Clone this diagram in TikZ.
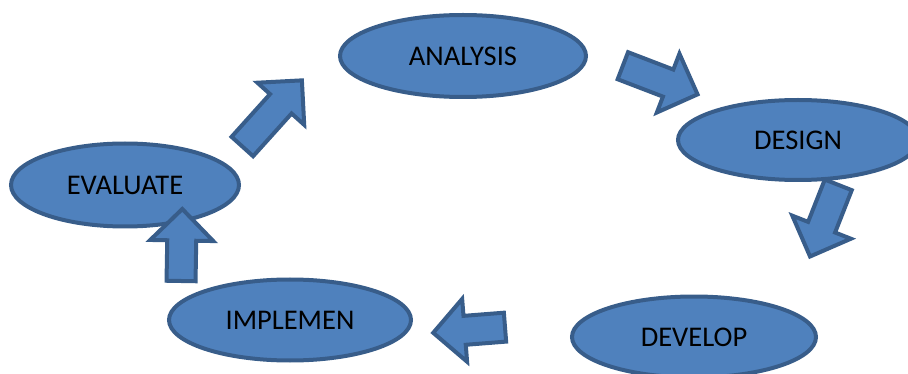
\documentclass[tikz,border=0pt]{standalone}
\usepackage{fontspec}
\setmainfont{Carlito}
\usepackage{xcolor}
\usepackage{tikz}
\usetikzlibrary{shapes,arrows,positioning,calc}
\definecolor{stagefill}{HTML}{4F81BD}
\definecolor{stageline}{HTML}{385D8A}

\begin{document}
\begin{tikzpicture}[x=1pt, y=-1pt,
    stage/.style={draw=stageline, fill=stagefill, line width=4pt, ellipse, font=\fontsize{28.5}{34}\selectfont},
    flow/.style={draw=stageline, fill=stagefill, line width=4pt, single arrow, line join=miter, inner sep=12.5pt, single arrow head extend=17pt, anchor=tail}]
    \useasboundingbox (0,0) rectangle (908,374);
    \node[stage, minimum width=246pt, minimum height=82pt] (ana) at (463,56) {ANALYSIS};
    \node[stage, minimum width=240pt, minimum height=80pt] (des) at (798,140) {DESIGN};
    \node[stage, minimum width=244pt, minimum height=81pt] (dev) at (694,337) {DEVELOP};
    \node[stage, minimum width=242pt, minimum height=81pt] (imp) at (290,320) {IMPLEMEN};
    \node[stage, minimum width=228pt, minimum height=83pt] (eva) at (125,185) {EVALUATE};
    \node[flow, minimum height=89pt, rotate=48] (a1) at (241,148) {};
    \node[flow, minimum height=80pt, rotate=-21] (a2) at (621,65) {};
    \node[flow, minimum height=77pt, rotate=-111.5] (a3) at (839,183) {};
    \node[flow, minimum height=72pt, rotate=184.5] (a4) at (507,327) {};
    \node[flow, minimum height=72pt, rotate=89] (a5) at (181,283) {};
\end{tikzpicture}
\end{document}
